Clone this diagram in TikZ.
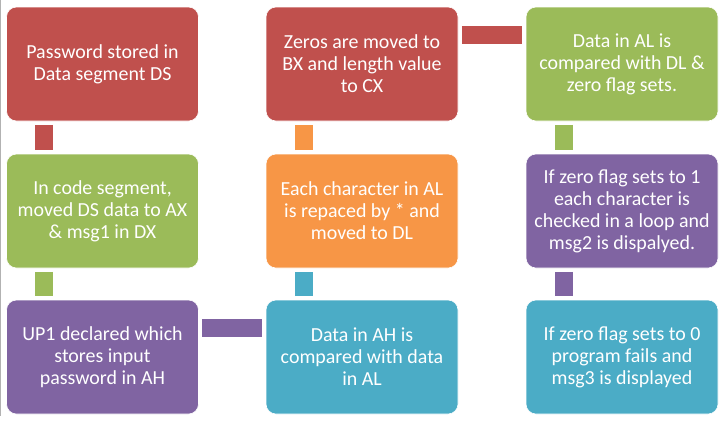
\documentclass[tikz,border=0pt]{standalone}
\usepackage{fontspec}
\setmainfont{Carlito}
\definecolor{boxred}{HTML}{C0504D}
\definecolor{boxgreen}{HTML}{9BBB59}
\definecolor{boxpurple}{HTML}{8064A2}
\definecolor{boxblue}{HTML}{4BACC6}
\definecolor{boxorange}{HTML}{F79646}
\tikzset{
  stepbox/.style={rectangle, rounded corners=10bp, draw=white, line width=0.6bp,
    text=white, align=center, minimum width=192bp, minimum height=114bp,
    inner sep=0pt, font=\fontsize{20}{22}\selectfont},
  bar/.style={line width=18bp}
}
\begin{document}
\begin{tikzpicture}[x=1bp,y=-1bp]
\useasboundingbox (0,0) rectangle (725,425);
\draw[gray!60] (0.5,0) -- (0.5,416);
% first column, top to bottom
\node[stepbox,fill=boxred] (pwd) at (102.5,64) {Password stored in\\Data segment DS};
\node[stepbox,fill=boxgreen] (codeseg) at (102.5,211) {In code segment,\\moved DS data to AX\\\& msg1 in DX};
\node[stepbox,fill=boxpurple] (upone) at (102.5,357) {UP1 declared which\\stores input\\password in AH};
% second column, bottom to top
\node[stepbox,fill=boxblue] (cmpah) at (362,357) {Data in AH is\\compared with data\\in AL};
\node[stepbox,fill=boxorange] (repl) at (362,211) {Each character in AL\\is repaced by * and\\moved to DL};
\node[stepbox,fill=boxred] (zeros) at (362,64) {Zeros are moved to\\BX and length value\\to CX};
% third column, top to bottom
\node[stepbox,fill=boxgreen] (cmpal) at (622,64) {Data in AL is\\compared with DL \&\\zero flag sets.};
\node[stepbox,fill=boxpurple] (flagone) at (622,211) {If zero flag sets to 1\\each character is\\checked in a loop and\\msg2 is dispalyed.};
\node[stepbox,fill=boxblue] (flagzero) at (622,357) {If zero flag sets to 0\\program fails and\\msg3 is displayed};
% bars
\draw[bar,boxred] ([shift={(38,3.5)}]pwd.south west) -- ([shift={(38,-3.5)}]codeseg.north west);
\draw[bar,boxgreen] ([shift={(38,3.5)}]codeseg.south west) -- ([shift={(38,-3.5)}]upone.north west);
\draw[bar,boxpurple] ([shift={(3.5,28)}]upone.north east) -- ([shift={(-3.5,28)}]cmpah.north west);
\draw[bar,boxblue] ([shift={(38,-3.5)}]cmpah.north west) -- ([shift={(38,3.5)}]repl.south west);
\draw[bar,boxorange] ([shift={(38,-3.5)}]repl.north west) -- ([shift={(38,3.5)}]zeros.south west);
\draw[bar,boxred] ([shift={(3.5,28)}]zeros.north east) -- ([shift={(-3.5,28)}]cmpal.north west);
\draw[bar,boxgreen] ([shift={(38,3.5)}]cmpal.south west) -- ([shift={(38,-3.5)}]flagone.north west);
\draw[bar,boxpurple] ([shift={(38,3.5)}]flagone.south west) -- ([shift={(38,-3.5)}]flagzero.north west);
\end{tikzpicture}
\end{document}
